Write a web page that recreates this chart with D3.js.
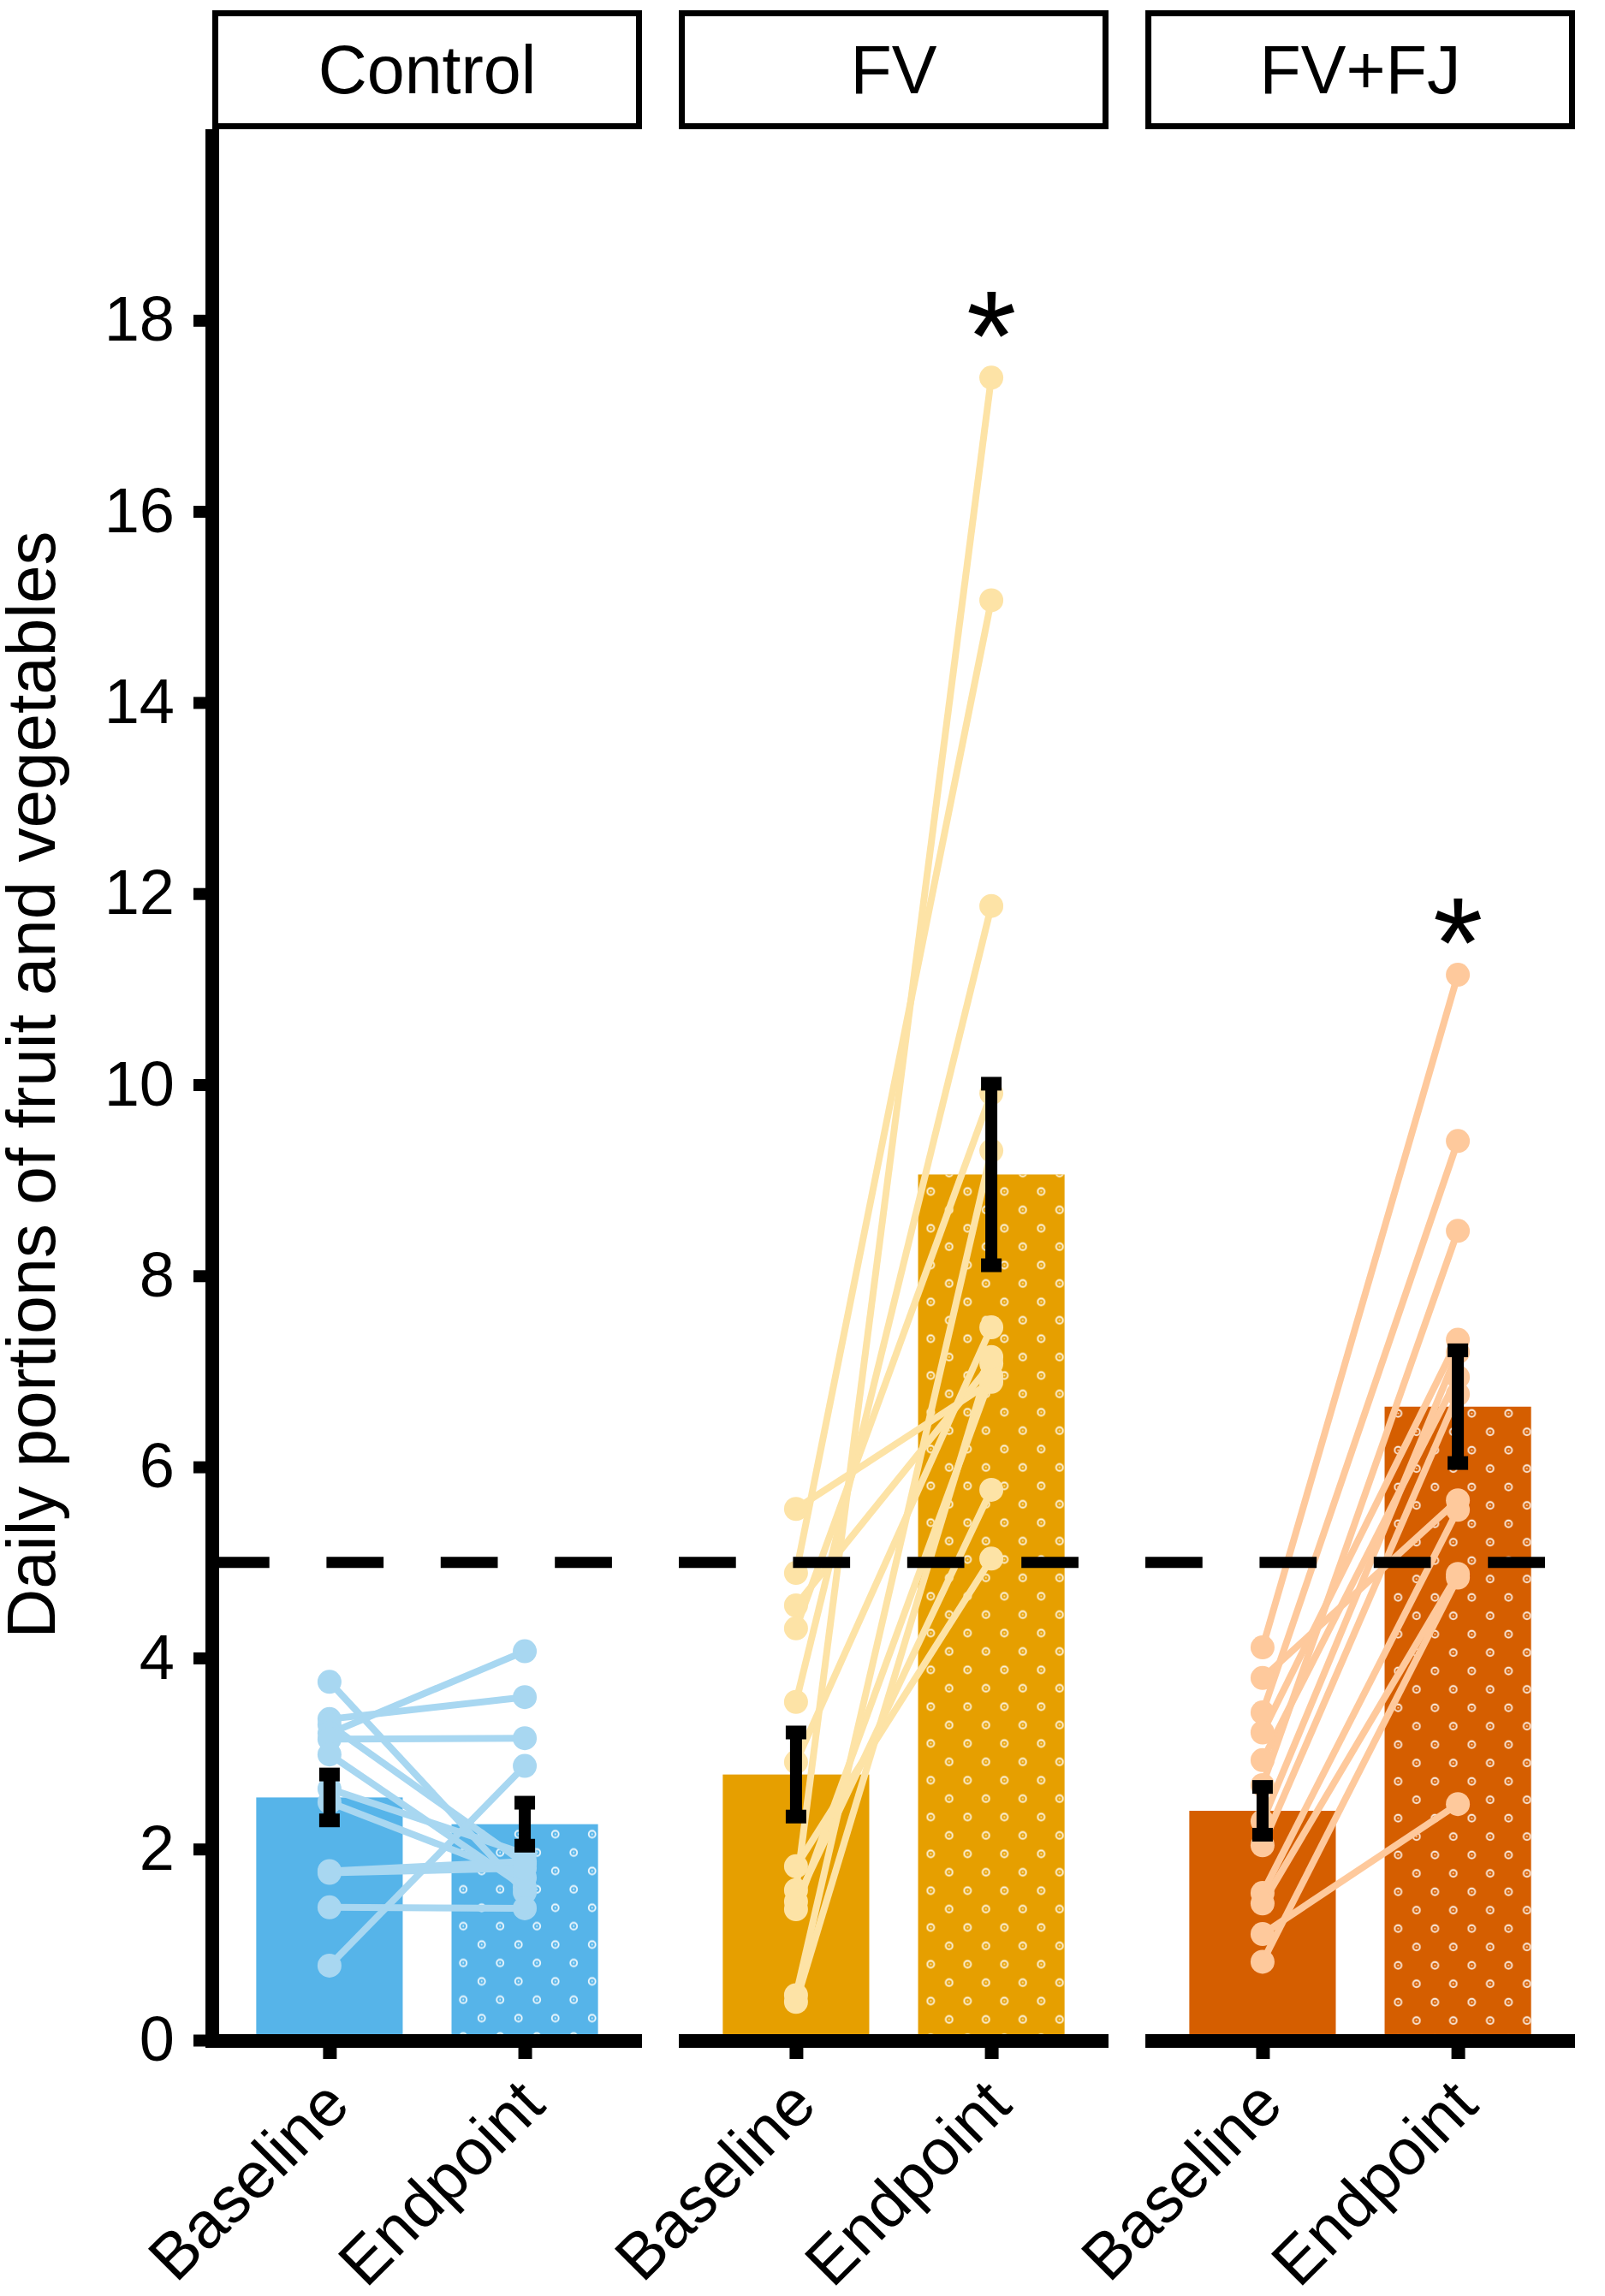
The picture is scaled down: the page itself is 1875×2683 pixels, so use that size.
<!DOCTYPE html>
<html>
<head>
<meta charset="utf-8">
<script src="https://cdn.jsdelivr.net/npm/d3@7"></script>
<style>
  html, body { margin: 0; padding: 0; background: #ffffff; }
  svg { display: block; font-family: "Liberation Sans", Arial, sans-serif; }
</style>
</head>
<body>
<div id="chart"></div>
<script>
"use strict";

// groups, timepoints and axis ticks
const groups = ["Control", "FV", "FV+FJ"];
const timepoints = ["Baseline", "Endpoint"];
const yTicks = [0, 2, 4, 6, 8, 10, 12, 14, 16, 18];
const threshold = 5;

// individual participants (baseline[i] pairs with endpoint[i])
const controlBaseline = [3.75, 3.36, 3.30, 3.21, 3.15, 2.99, 2.63, 2.49, 1.77, 1.75, 1.39, 0.78];
const controlEndpoint = [1.55, 3.59, 1.85, 4.07, 3.16, 1.60, 1.95, 1.70, 1.87, 1.80, 1.38, 2.87];
const fvBaseline = [5.56, 4.89, 4.55, 4.31, 3.54, 2.91, 1.82, 1.57, 1.45, 1.37, 0.47, 0.40];
const fvEndpoint = [6.89, 15.07, 7.08, 9.91, 11.87, 7.46, 5.04, 17.40, 5.76, 6.95, 9.31, 7.15];
const fvfjBaseline = [4.11, 3.79, 3.43, 3.22, 2.93, 2.67, 2.29, 2.04, 1.54, 1.43, 1.11, 0.82];
const fvfjEndpoint = [11.15, 5.65, 9.41, 7.33, 6.94, 8.47, 7.20, 6.76, 5.55, 4.88, 2.47, 4.84];

// group means and SEM
const meanBaseline = [2.54, 2.78, 2.40];
const meanEndpoint = [2.26, 9.06, 6.63];
const semBaseline = [0.24, 0.44, 0.25];
const semEndpoint = [0.225, 0.95, 0.59];

// significance marks above the endpoint bars
const starLabels = ["", "*", "*"];
const starY = [null, 18.15, 11.8];

const baselineByGroup = [controlBaseline, fvBaseline, fvfjBaseline];
const endpointByGroup = [controlEndpoint, fvEndpoint, fvfjEndpoint];

// styles
const barColors = ["#56B4E9", "#E69F00", "#D55E00"];
const pointColors = ["#a8d7f1", "#fde3a6", "#fec99c"];
const patternPhase = [[3.7, 36.3], [12.3, 16.3], [42.3, 17.6]];

const width = 1875;
const height = 2683;

const svg = d3
  .select("#chart")
  .append("svg")
  .attr("width", width)
  .attr("height", height)
  .attr("viewBox", `0 0 ${width} ${height}`);

svg.append("rect").attr("width", width).attr("height", height).attr("fill", "#ffffff");

const y = d3.scaleLinear().domain([0, 20]).range([2384, 151]);
const panelX = d3.scaleBand().domain(groups).range([248, 1840]).paddingInner(0.079);
const panelW = panelX.bandwidth();
const x = d3.scalePoint().domain(timepoints).range([0, panelW]).padding(0.6);
const barWidth = x.step() * 0.75;

// dotted fill for endpoint bars
const defs = svg.append("defs");
groups.forEach((g, i) => {
  const pat = defs
    .append("pattern")
    .attr("id", `dots-${i}`)
    .attr("patternUnits", "userSpaceOnUse")
    .attr("x", patternPhase[i][0] - 10.75)
    .attr("y", patternPhase[i][1] - 10.75)
    .attr("width", 43)
    .attr("height", 43);
  [[10.75, 10.75], [32.25, 32.25]].forEach(([cx, cy]) => {
    pat
      .append("circle")
      .attr("cx", cx)
      .attr("cy", cy)
      .attr("r", 4)
      .attr("fill", "none")
      .attr("stroke", "#ffffff")
      .attr("stroke-opacity", 0.9)
      .attr("stroke-width", 1.8);
    pat
      .append("circle")
      .attr("cx", cx)
      .attr("cy", cy)
      .attr("r", 1)
      .attr("fill", "#ffffff")
      .attr("fill-opacity", 0.85);
  });
});

groups.forEach((group, i) => {
  const px = panelX(group);
  const panel = svg.append("g").attr("transform", `translate(${px},0)`);
  const means = [meanBaseline[i], meanEndpoint[i]];
  const sems = [semBaseline[i], semEndpoint[i]];
  const barData = timepoints.map((t, k) => ({ t, mean: means[k], sem: sems[k] }));

  panel
    .selectAll("rect.bar")
    .data(barData)
    .join("rect")
    .attr("class", "bar")
    .attr("x", (d) => x(d.t) - barWidth / 2)
    .attr("y", (d) => y(d.mean))
    .attr("width", barWidth)
    .attr("height", (d) => y(0) - y(d.mean))
    .attr("fill", barColors[i]);

  // pattern overlay on endpoint bar (drawn in page space so the pattern phase holds)
  svg
    .selectAll(`rect.pattern-${i}`)
    .data(barData.filter((d) => d.t === "Endpoint"))
    .join("rect")
    .attr("class", `pattern-${i}`)
    .attr("x", (d) => px + x(d.t) - barWidth / 2)
    .attr("y", (d) => y(d.mean))
    .attr("width", barWidth)
    .attr("height", (d) => y(0) - y(d.mean))
    .attr("fill", `url(#dots-${i})`);

  const layer = svg.append("g").attr("transform", `translate(${px},0)`);
  const pairs = baselineByGroup[i].map((b, k) => [b, endpointByGroup[i][k]]);

  layer
    .selectAll("line.pair")
    .data(pairs)
    .join("line")
    .attr("class", "pair")
    .attr("x1", x("Baseline"))
    .attr("x2", x("Endpoint"))
    .attr("y1", (d) => y(d[0]))
    .attr("y2", (d) => y(d[1]))
    .attr("stroke", pointColors[i])
    .attr("stroke-width", 8);

  const points = pairs.flatMap((d) => [
    { t: "Baseline", v: d[0] },
    { t: "Endpoint", v: d[1] },
  ]);

  layer
    .selectAll("circle.pt")
    .data(points)
    .join("circle")
    .attr("class", "pt")
    .attr("cx", (d) => x(d.t))
    .attr("cy", (d) => y(d.v))
    .attr("r", 14)
    .attr("fill", pointColors[i]);

  // error bars
  const err = layer.selectAll("g.err").data(barData).join("g").attr("class", "err");
  err
    .append("line")
    .attr("x1", (d) => x(d.t))
    .attr("x2", (d) => x(d.t))
    .attr("y1", (d) => y(d.mean + d.sem))
    .attr("y2", (d) => y(d.mean - d.sem))
    .attr("stroke", "#000")
    .attr("stroke-width", 14);
  [1, -1].forEach((sign) => {
    err
      .append("line")
      .attr("x1", (d) => x(d.t) - 12)
      .attr("x2", (d) => x(d.t) + 12)
      .attr("y1", (d) => y(d.mean + sign * d.sem))
      .attr("y2", (d) => y(d.mean + sign * d.sem))
      .attr("stroke", "#000")
      .attr("stroke-width", 16);
  });

  // five-a-day reference line
  layer
    .append("line")
    .attr("x1", 0)
    .attr("x2", panelW)
    .attr("y1", y(threshold))
    .attr("y2", y(threshold))
    .attr("stroke", "#000")
    .attr("stroke-width", 13)
    .attr("stroke-dasharray", "66.7 66.7");

  // x axis
  const xAxis = layer
    .append("g")
    .attr("transform", `translate(0,${2393})`)
    .call(d3.axisBottom(x).tickSize(13).tickPadding(0));
  xAxis.select(".domain").remove();
  xAxis.selectAll(".tick line").attr("stroke", "#000").attr("stroke-width", 16);
  xAxis
    .selectAll(".tick text")
    .attr("x", 0)
    .attr("y", 0)
    .attr("dy", "0.71em")
    .attr("transform", "translate(-12,32) rotate(-45)")
    .attr("text-anchor", "end")
    .attr("font-size", 76)
    .attr("fill", "#000");
  layer
    .append("line")
    .attr("x1", i === 0 ? -8 : 0)
    .attr("x2", panelW)
    .attr("y1", 2385)
    .attr("y2", 2385)
    .attr("stroke", "#000")
    .attr("stroke-width", 16);

  // strip
  layer
    .append("rect")
    .attr("x", 3.5)
    .attr("y", 15.5)
    .attr("width", panelW - 7)
    .attr("height", 132)
    .attr("fill", "#ffffff")
    .attr("stroke", "#000")
    .attr("stroke-width", 7);
  layer
    .append("text")
    .attr("x", panelW / 2)
    .attr("y", 81)
    .attr("dy", "0.36em")
    .attr("text-anchor", "middle")
    .attr("font-size", 79)
    .attr("fill", "#000")
    .text(group);

  if (starLabels[i]) {
    layer
      .append("text")
      .attr("x", x("Endpoint"))
      .attr("y", y(starY[i]) + 0.58 * 150)
      .attr("text-anchor", "middle")
      .attr("font-size", 150)
      .attr("fill", "#000")
      .text(starLabels[i]);
  }
});

// y axis (first panel only)
const yAxis = svg
  .append("g")
  .attr("transform", "translate(240,0)")
  .call(d3.axisLeft(y).tickValues(yTicks).tickSize(14).tickPadding(22));
yAxis.select(".domain").remove();
yAxis.selectAll(".tick line").attr("stroke", "#000").attr("stroke-width", 14);
yAxis.selectAll(".tick text").attr("font-size", 74).attr("fill", "#000");
svg
  .append("line")
  .attr("x1", 248)
  .attr("x2", 248)
  .attr("y1", 151)
  .attr("y2", 2393)
  .attr("stroke", "#000")
  .attr("stroke-width", 16);

svg
  .append("text")
  .attr("transform", `translate(64,${(y(0) + y(20)) / 2}) rotate(-90)`)
  .attr("text-anchor", "middle")
  .attr("font-size", 80)
  .attr("fill", "#000")
  .text("Daily portions of fruit and vegetables");
</script>
</body>
</html>
